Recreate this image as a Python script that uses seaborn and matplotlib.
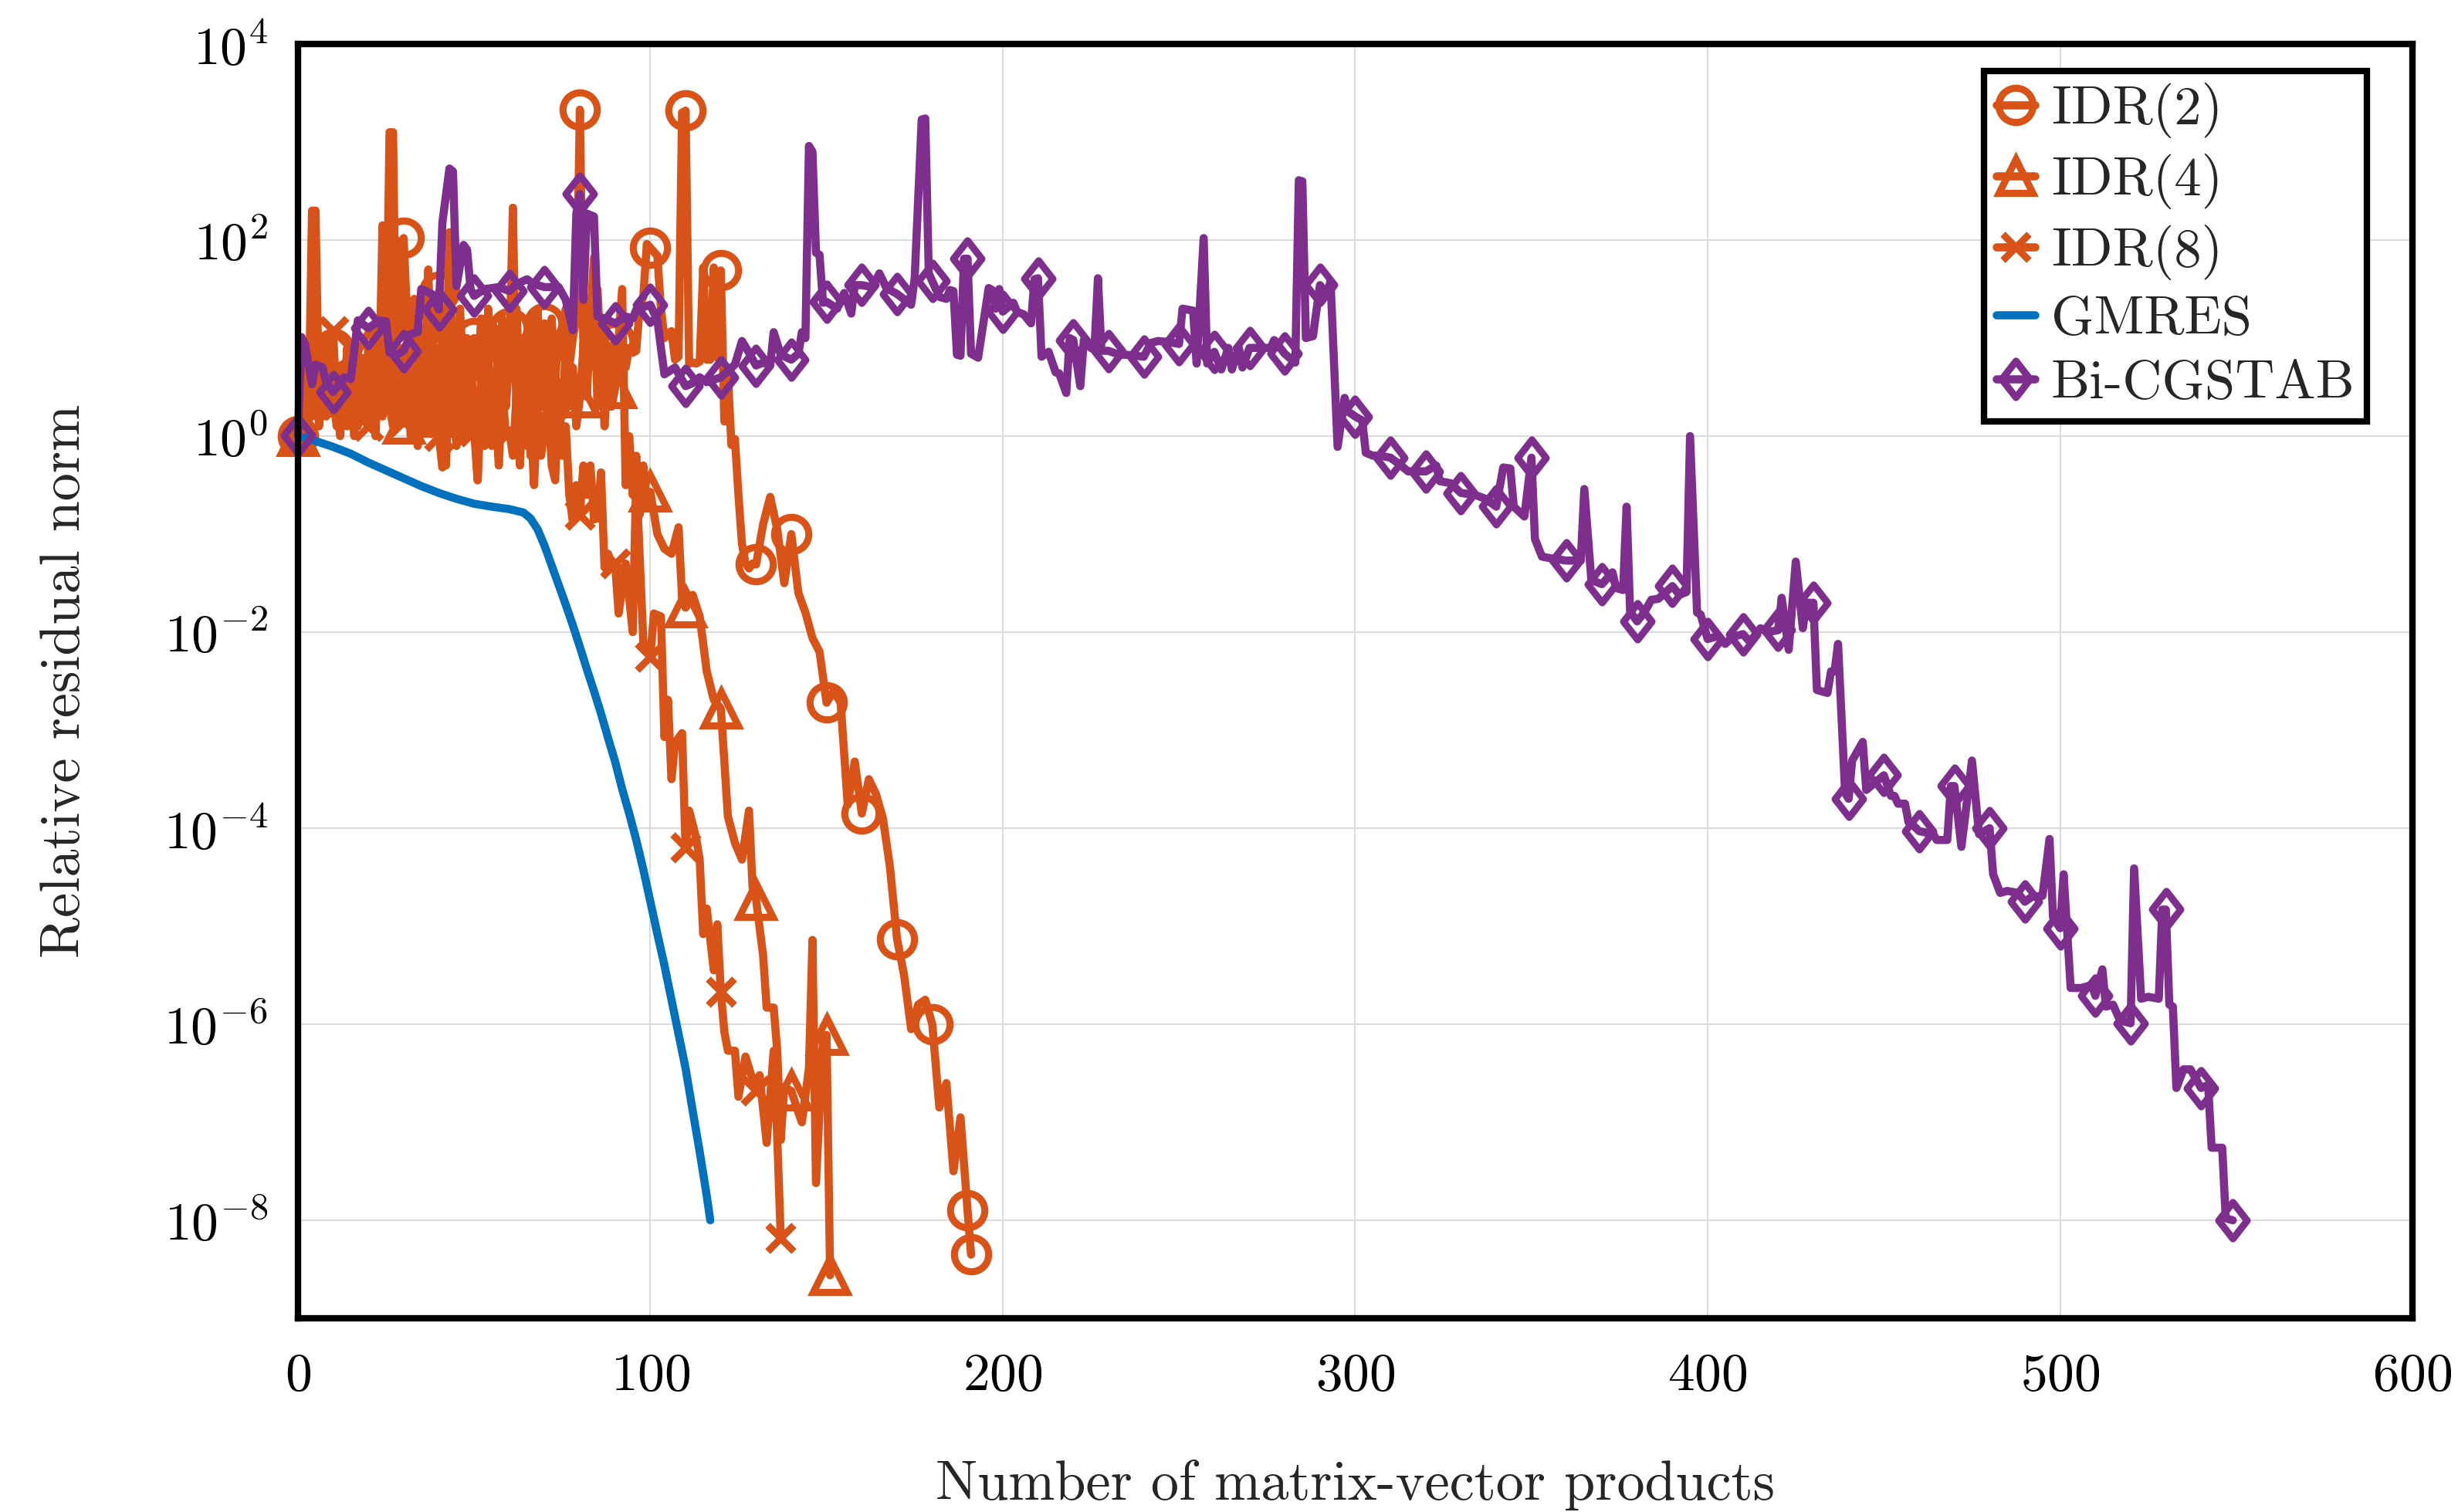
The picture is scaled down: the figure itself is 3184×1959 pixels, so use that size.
import matplotlib
matplotlib.use("Agg")
import matplotlib.pyplot as plt
from matplotlib.lines import Line2D
from matplotlib.path import Path
from matplotlib.ticker import FixedLocator, LogFormatterMathtext, NullLocator
import numpy as np
import pandas as pd
import seaborn as sns

ORANGE = "#D95319"
BLUE = "#0072BD"
PURPLE = "#7E2F8E"

# x = number of matrix-vector products, *_LOG = log10(relative residual norm)
IDR2_X = list(range(0, 131)) + list(range(132, 191, 2)) + [191]
IDR2_LOG = [
    0.0, 0.45, 0.2, 0.8, 0.4, 1.1, 0.5, 0.9, 0.3, 1.0,
    0.89, 0.4, 0.7, 0.25, 0.9, 0.35, 0.6, 0.2, 0.8, 0.4,
    0.36, 0.9, 0.5, 1.2, 0.6, 1.3, 0.7, 1.5, 2.0, 1.0,
    2.02, 1.2, 0.6, 1.4, 0.8, 1.1, 0.5, 1.0, 0.7, 1.3,
    1.47, 0.8, 1.2, 0.5, 1.1, 0.7, 1.3, 0.6, 1.0, 0.4,
    1.0, 0.6, 1.2, 0.5, 1.3, 0.8, 1.1, 0.4, 1.2, 0.7,
    1.1, 0.6, 1.3, 0.5, 1.0, 0.4, 1.2, 0.8, 1.3, 0.6,
    1.15, 0.7, 1.2, 0.6, 1.0, 0.8, 1.3, 0.7, 1.0, 1.2,
    3.33, 0.9, 1.4, 0.7, 1.2, 1.5, 0.8, 1.1, 0.6, 0.9,
    0.97, 0.6, 1.0, 0.7, 0.9, 0.85, 0.87, 1.33, 1.42, 1.96,
    1.92, 1.88, 1.84, 1.3, 1.0, 1.05, 1.07, 0.78, 0.81, 3.3,
    3.32, 0.74, 0.75, 0.74, 0.76, 1.72, 0.78, 0.78, 1.72, 0.8,
    1.69, 0.15, 0.63, -0.09, -0.03, -0.6, -1.1, -1.3, -1.35, -1.3,
    -1.31,
    -0.9, -0.62, -0.95, -1.5, -1.0, -1.6, -1.8, -2.06, -2.2, -2.72,
    -2.6, -2.72, -3.76, -3.32, -3.85, -3.5, -3.65, -3.9, -4.4, -5.13,
    -5.5, -6.05, -5.8, -5.75, -6.0, -6.85, -6.6, -7.5, -6.95, -7.9,
    -8.35,
]

IDR4_X = list(range(0, 101)) + [102, 104, 106, 108, 109, 110, 112, 114, 116, 118,
                                120, 121, 122, 124, 126, 128, 129, 130, 132, 133,
                                135, 136, 137, 138, 140, 142, 143, 145, 146, 147,
                                149, 150, 151]
IDR4_LOG = [
    0.0, 0.3, 0.1, 0.6, 0.2, 0.7, 0.1, 0.5, 0.3, 0.8,
    0.4, 0.1, 0.7, 0.3, 0.9, 0.2, 0.6, 0.1, 0.8, 0.4,
    0.9, 0.3, 1.1, 0.4, 2.15, 0.6, 3.1, 3.1, 0.3, 0.9,
    0.13, 0.8, 0.3, 1.0, 0.2, 0.7, 0.4, 1.7, 0.3, 0.9,
    0.2, 0.8, -0.3, 0.7, 0.3, 1.0, 0.0, 0.6, 0.3, 0.8,
    0.2, -0.45, 0.7, 0.1, 0.9, -0.1, 0.6, 0.2, 1.0, 0.3,
    0.8, 2.33, 0.2, 0.9, 0.1, 0.7, -0.2, 0.6, 0.9, 0.3,
    0.65, 0.1, 0.8, -0.2, 0.5, 0.2, 0.9, 0.3, 0.7, 0.1,
    0.39, 0.9, 0.4, 1.2, 1.82, 0.3, 0.9, 0.1, 0.7, 0.3,
    0.49, 1.0, 1.5, -0.5, 0.0, -0.6, -0.2, -0.8, -0.3, -0.7,
    -0.57,
    -1.0, -1.15, -1.2, -0.93, -1.65, -1.75, -1.62, -1.84, -2.4, -2.69,
    -2.78, -3.32, -3.88, -4.15, -4.32, -3.82, -4.6, -4.73, -5.3, -5.83,
    -5.83, -6.27, -7.18, -6.64, -6.68, -6.9, -7.0, -6.45, -5.14, -7.62,
    -6.14, -6.11, -8.56,
]

IDR8_X = list(range(0, 91)) + [91, 93, 95, 96, 98, 100, 101, 103, 104, 105,
                               106, 107, 109, 110, 111, 113, 114, 115, 116, 118,
                               119, 120, 121, 122, 124, 125, 127, 130, 131, 133,
                               135, 136, 137]
IDR8_LOG = [
    0.0, 0.2, 0.6, 0.1, 2.3, 2.3, 0.3, 0.8, 0.2, 0.9,
    1.07, 0.3, 0.0, 0.6, 0.1, 0.5, 0.0, 0.7, 0.2, 0.5,
    0.1, 0.6, 0.0, 0.8, 0.2, 2.1, 0.3, 0.1, 0.7, 0.2,
    0.15, 0.6, 0.0, 0.5, -0.1, 0.7, 0.1, 0.4, 0.02, 0.6,
    0.0, -0.32, 0.5, 2.08, 0.4, -0.1, 0.6, 0.0, 0.5, 0.02,
    0.05, -0.45, 0.4, -0.1, 0.6, 0.0, 0.3, -0.3, 0.5, 0.0,
    0.05, -0.2, 0.4, -0.3, 0.6, -0.1, 0.2, -0.5, 0.3, -0.2,
    0.1, 0.4, -0.3, -0.45, 0.5, -0.2, 0.1, -0.6, -0.87, -0.5,
    -0.8, -0.3, -0.6, -0.3, -0.85, -0.84, -0.37, -1.34, -1.2, -1.3,
    -1.3,
    -1.81, -1.3, -2.0, -0.4, -2.1, -2.25, -1.81, -1.84, -3.07, -2.69,
    -3.5, -3.13, -3.03, -4.2, -3.82, -4.1, -4.32, -5.08, -4.82, -5.45,
    -4.98, -5.67, -6.08, -6.27, -6.27, -6.74, -6.33, -6.68, -6.52, -7.21,
    -6.27, -7.15, -8.18,
]

GMRES_X = [0, 5, 10, 15, 20, 25, 30, 35, 40, 45, 50, 55, 60, 64, 66, 68, 70, 72, 74, 76,
           78, 80, 82, 84, 86, 88, 90, 92, 94, 96, 98, 100, 102, 104, 106, 108, 110, 112, 114, 116,
           117]
GMRES_LOG = [0.0, -0.05, -0.11, -0.18, -0.27, -0.35, -0.43, -0.51, -0.58, -0.64,
             -0.69, -0.72, -0.745, -0.78, -0.84, -0.95, -1.12, -1.32, -1.52, -1.72,
             -1.93, -2.15, -2.38, -2.6, -2.83, -3.08, -3.32, -3.6, -3.85, -4.12,
             -4.42, -4.75, -5.08, -5.4, -5.75, -6.1, -6.45, -6.88, -7.3, -7.75,
             -8.0]

BICG_X = [0, 1, 2, 4, 5, 7, 8, 10, 13, 15, 17, 20, 23, 25, 26, 28, 30, 32, 34, 35,
          38, 40, 41, 43, 44, 45, 47, 48, 49, 50, 53, 57, 60, 62, 65, 67, 70, 74, 76, 78,
          79, 80, 81, 82, 84, 85, 87, 90, 93, 95, 96, 100, 102, 103, 104, 107, 110, 112, 114, 116,
          120, 124, 126, 128, 130, 132, 134, 135, 137, 140, 142, 143, 144, 145, 146, 147, 148, 149, 150, 153,
          155, 157, 158, 160, 163, 165, 167, 170, 174, 175, 177, 178, 179, 180, 182, 184, 185, 186, 187, 188,
          189, 190, 191, 193, 195, 196, 197, 198, 199, 200, 203, 204, 206, 208, 209, 210, 211, 213, 215, 216,
          218, 219, 220, 222, 223, 225, 226, 227, 228, 230, 233, 235, 240, 242, 244, 247, 250, 251, 254, 255,
          257, 258, 260, 262, 264, 265, 267, 268, 270, 273, 276, 277, 280, 283, 284, 285, 286, 288, 290, 292,
          293, 295, 297, 298, 300, 302, 303, 305, 307, 310, 313, 315, 320, 323, 324, 327, 330, 334, 337, 340,
          342, 344, 345, 348, 350, 351, 353, 356, 360, 364, 365, 367, 370, 373, 374, 376, 377, 378, 380, 382,
          384, 386, 390, 392, 394, 395, 397, 398, 400, 403, 405, 407, 410, 412, 415, 417, 420, 421, 423, 425,
          427, 428, 430, 431, 434, 435, 436, 437, 439, 440, 441, 444, 445, 447, 450, 452, 453, 454, 456, 457,
          458, 460, 464, 465, 468, 469, 470, 472, 475, 477, 480, 481, 483, 485, 488, 490, 492, 495, 497, 498,
          500, 501, 503, 506, 509, 510, 512, 513, 515, 517, 520, 521, 523, 525, 528, 529, 530, 531, 532, 533,
          535, 537, 540, 542, 543, 546, 547, 549]
BICG_LOG = [0.01, 1.01, 0.94, 0.53, 0.73, 0.7, 0.55, 0.45, 0.6, 0.58, 1.18, 1.1, 1.18, 1.17, 0.85, 0.83, 0.87, 1.04, 1.06, 1.5,
            1.45, 1.29, 2.18, 2.73, 2.7, 1.53, 1.95, 1.9, 1.5, 1.43, 1.5, 1.52, 1.48, 1.55, 1.6, 1.55, 1.52, 1.52, 1.39, 1.08,
            2.27, 2.47, 1.39, 2.27, 2.24, 1.22, 1.2, 1.15, 1.22, 1.2, 1.29, 1.34, 1.18, 0.9, 0.63, 0.7, 0.51, 0.54, 0.6, 0.55,
            0.6, 0.73, 0.97, 0.85, 0.72, 0.75, 0.72, 1.06, 0.83, 0.78, 0.84, 1.06, 1.0, 2.96, 2.9, 1.87, 1.85, 1.36, 1.37, 1.3,
            1.46, 1.25, 1.54, 1.54, 1.52, 1.66, 1.51, 1.45, 1.34, 1.61, 3.23, 3.24, 1.66, 1.58, 1.42, 1.4, 1.49, 1.48, 0.83, 0.82,
            1.81, 1.81, 0.84, 0.8, 1.27, 1.51, 1.49, 1.3, 1.5, 1.27, 1.36, 1.27, 1.24, 1.15, 1.6, 1.61, 0.81, 0.86, 0.65, 0.64,
            0.44, 1.0, 0.98, 0.51, 0.98, 0.9, 0.88, 1.61, 0.87, 0.87, 0.83, 0.83, 0.81, 0.95, 0.97, 0.96, 0.94, 1.3, 1.28, 0.74,
            2.02, 0.74, 0.86, 0.68, 0.9, 0.68, 0.9, 0.7, 0.9, 0.9, 0.9, 0.98, 0.84, 0.75, 2.61, 2.6, 1.0, 1.02, 1.54, 1.45,
            1.58, -0.11, 0.39, 0.25, 0.2, 0.16, -0.17, -0.2, -0.2, -0.22, -0.3, -0.36, -0.36, -0.3, -0.46, -0.48, -0.58, -0.6, -0.64, -0.72,
            -0.32, -0.33, -0.72, -0.82, -0.22, -1.05, -1.23, -1.25, -1.27, -1.27, -0.54, -1.47, -1.51, -1.39, -1.55, -1.57, -0.72, -1.79, -1.89, -1.8,
            -1.67, -1.66, -1.53, -1.62, -1.59, 0.0, -1.8, -1.82, -2.07, -2.04, -2.12, -2.05, -2.02, -2.1, -1.96, -2.0, -1.98, -1.65, -2.18, -1.28,
            -1.96, -1.7, -1.7, -2.59, -2.62, -2.4, -2.4, -2.12, -3.64, -3.7, -3.31, -3.12, -3.61, -3.55, -3.46, -3.67, -3.67, -3.75, -3.75, -3.94,
            -3.96, -4.03, -4.06, -4.12, -4.12, -3.57, -3.57, -4.19, -3.31, -4.06, -4.0, -4.47, -4.66, -4.64, -4.66, -4.75, -4.7, -4.69, -4.11, -4.91,
            -5.02, -4.47, -5.63, -5.63, -5.6, -5.71, -5.44, -5.82, -5.8, -5.96, -5.99, -4.41, -5.74, -5.72, -5.74, -4.83, -4.83, -5.8, -5.82, -6.65,
            -6.46, -6.46, -6.65, -6.62, -7.26, -7.26, -7.98, -8.0]

X_TICKS = [0, 100, 200, 300, 400, 500, 600]
Y_TICKS = [1e-8, 1e-6, 1e-4, 1e-2, 1e0, 1e2, 1e4]

# pgfplots-like diamond: taller than wide
DIAMOND = Path([(0, 1), (0.78, 0), (0, -1), (-0.78, 0), (0, 1)],
               [Path.MOVETO, Path.LINETO, Path.LINETO, Path.LINETO, Path.CLOSEPOLY])

SERIES = [
    ("IDR(2)", IDR2_X, IDR2_LOG, ORANGE, "o", 16),
    ("IDR(4)", IDR4_X, IDR4_LOG, ORANGE, "^", 16),
    ("IDR(8)", IDR8_X, IDR8_LOG, ORANGE, "x", 12),
    ("GMRES", GMRES_X, GMRES_LOG, BLUE, None, 0),
    ("Bi-CGSTAB", BICG_X, BICG_LOG, PURPLE, DIAMOND, 17),
]

LW = 3.8
MEW = 3.3


def setup_style() -> None:
    sns.set_theme(style="whitegrid")
    plt.rcParams.update(
        {
            "font.family": "serif",
            "font.serif": ["cmr10", "DejaVu Serif"],
            "mathtext.fontset": "cm",
            "axes.formatter.use_mathtext": True,
            "axes.unicode_minus": False,
        }
    )


def draw_series(ax, xs, logs, color, marker, size):
    xs = np.asarray(xs, dtype=float)
    frame = pd.DataFrame({"x": xs, "y": 10.0 ** np.asarray(logs, dtype=float)})
    kws = dict(color=color, linewidth=LW, clip_on=False, zorder=3)
    if marker is not None:
        # a mark every 10 products, plus the final iterate
        marks = [i for i, v in enumerate(xs) if v % 10 == 0]
        if marks[-1] != len(xs) - 1:
            marks.append(len(xs) - 1)
        kws.update(marker=marker, markersize=size, markevery=marks,
                   markerfacecolor="none", markeredgecolor=color, markeredgewidth=MEW)
    sns.lineplot(data=frame, x="x", y="y", ax=ax, estimator=None, sort=False, **kws)


def main() -> None:
    setup_style()
    fig = plt.figure(figsize=(15.92, 9.795), dpi=200)
    ax = fig.add_axes([0.1212, 0.1281, 0.8603, 0.8428])
    ax.set_yscale("log")

    handles = []
    for label, xs, logs, color, marker, size in SERIES:
        draw_series(ax, xs, logs, color, marker, size)
        handles.append(
            Line2D([], [], color=color, linewidth=LW, marker=marker, markersize=size,
                   markerfacecolor="none", markeredgecolor=color, markeredgewidth=MEW, label=label)
        )

    ax.set_xlim(0, 600)
    ax.set_ylim(1e-9, 1e4)
    ax.xaxis.set_major_locator(FixedLocator(X_TICKS))
    ax.yaxis.set_major_locator(FixedLocator(Y_TICKS))
    ax.yaxis.set_major_formatter(LogFormatterMathtext())
    ax.yaxis.set_minor_locator(NullLocator())
    ax.tick_params(axis="both", length=0, labelsize=25, colors="black")
    ax.tick_params(axis="x", pad=16)
    ax.tick_params(axis="y", pad=14)
    ax.grid(True, color="#dadada", linewidth=0.7)
    for spine in ax.spines.values():
        spine.set_color("black")
        spine.set_linewidth(3.0)
        spine.set_zorder(5)

    ax.set_xlabel("Number of matrix-vector products", fontsize=26, labelpad=28)
    ax.set_ylabel("Relative residual norm", fontsize=26, labelpad=34)

    leg = ax.legend(handles=handles, loc="upper right", bbox_to_anchor=(0.9785, 0.979),
                    borderaxespad=0.0, fontsize=25.5, numpoints=1,
                    handlelength=0.7, handletextpad=0.3, labelspacing=0.28,
                    borderpad=0.22, fancybox=False, framealpha=1.0, edgecolor="black")
    leg.get_frame().set_linewidth(3.0)

    fig.savefig("out.png", dpi=200)
    plt.close(fig)


if __name__ == "__main__":
    main()
